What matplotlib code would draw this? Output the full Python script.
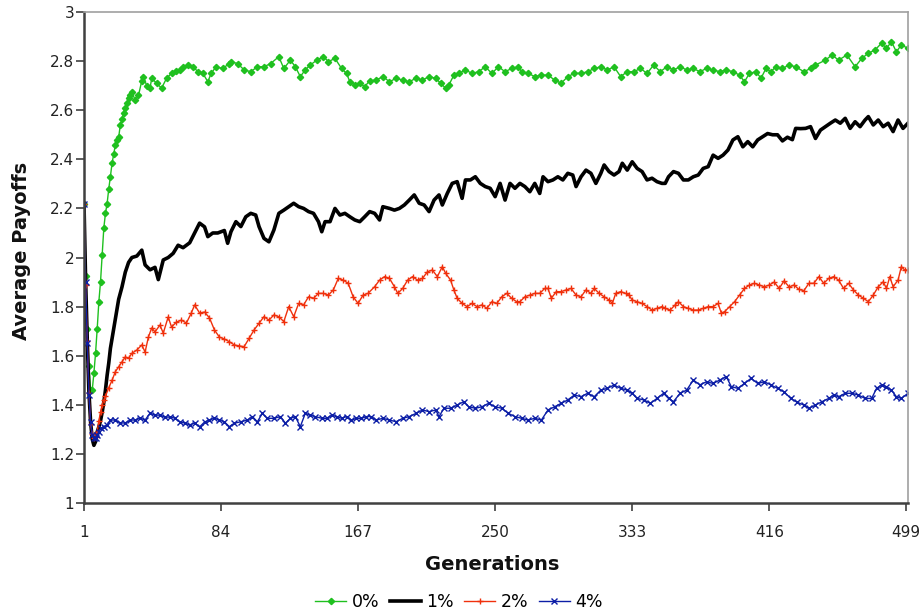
import numpy as np
import matplotlib
matplotlib.use('Agg')
import matplotlib.pyplot as plt
from matplotlib.ticker import FuncFormatter

# (generation, average payoff), one list per noise level
pts_0 = [(1,2.22),(2,1.925),(3,1.71),(4,1.56),(5,1.46),(6,1.46),(7,1.53),(8,1.61),(9,1.71),(10,1.82),
         (11,1.90),(12,2.01),(13,2.12),(14,2.18),(15,2.22),(16,2.28),(17,2.33),(18,2.385),(19,2.42),(20,2.46),
         (21,2.48),(22,2.49),(23,2.54),(24,2.565),(25,2.59),(26,2.61),(27,2.63),(28,2.65),(29,2.66),(30,2.675),
         (32,2.64),(34,2.66),(36,2.72),(37,2.735),(39,2.70),(41,2.69),(42,2.73),(45,2.71),(48,2.69),(51,2.73),
         (54,2.75),(57,2.76),(59,2.765),(61,2.777),(64,2.784),(67,2.777),(70,2.757),(73,2.75),(76,2.716),(78,2.75),
         (81,2.777),(85,2.77),(89,2.79),(90,2.798),(94,2.79),(98,2.764),(102,2.757),(106,2.777),(110,2.777),(114,2.79),
         (119,2.818),(122,2.77),(126,2.804),(129,2.777),(132,2.737),(135,2.764),(138,2.784),(142,2.804),(146,2.818),(149,2.798),
         (153,2.811),(157,2.77),(160,2.75),(162,2.716),(165,2.703),(168,2.71),(171,2.696),(174,2.72),(178,2.723),(182,2.737),
         (186,2.716),(190,2.73),(194,2.723),(198,2.716),(202,2.73),(206,2.723),(210,2.737),(214,2.73),(217,2.71),(220,2.69),
         (222,2.703),(225,2.743),(228,2.75),(232,2.764),(236,2.75),(240,2.757),(244,2.777),(248,2.75),(252,2.777),(256,2.757),
         (260,2.77),(264,2.777),(266,2.757),(270,2.75),(274,2.737),(278,2.743),(282,2.743),(286,2.723),(290,2.71),(294,2.737),
         (298,2.75),(302,2.75),(306,2.757),(310,2.77),(314,2.777),(318,2.764),(322,2.777),(326,2.737),(330,2.757),(334,2.757),
         (338,2.77),(342,2.75),(346,2.784),(350,2.757),(354,2.777),(358,2.764),(362,2.777),(366,2.764),(370,2.77),(374,2.757),
         (378,2.77),(382,2.764),(386,2.757),(390,2.764),(394,2.757),(398,2.743),(401,2.716),(404,2.75),(408,2.757),(411,2.73),
         (414,2.77),(417,2.757),(420,2.777),(424,2.77),(428,2.784),(432,2.777),(437,2.757),(441,2.77),(444,2.784),(450,2.804),
         (454,2.825),(458,2.804),(463,2.825),(468,2.777),(472,2.811),(476,2.832),(480,2.845),(484,2.873),(487,2.852),(490,2.879),
         (493,2.838),(496,2.866),(500,2.852)]

pts_1 = [(1,2.22),(2,1.90),(3,1.66),(4,1.45),(5,1.33),(6,1.26),(7,1.235),(8,1.25),(9,1.29),(10,1.31),
         (11,1.335),(12,1.37),(13,1.41),(14,1.46),(15,1.52),(16,1.57),(17,1.63),(18,1.67),(19,1.71),(20,1.75),
         (21,1.79),(22,1.83),(24,1.88),(26,1.94),(28,1.98),(30,2.00),(33,2.006),(36,2.03),(38,1.97),(41,1.95),
         (44,1.96),(46,1.91),(49,1.99),(52,2.0),(55,2.017),(58,2.05),(61,2.04),(65,2.06),(68,2.10),(71,2.14),
         (74,2.125),(76,2.085),(79,2.10),(82,2.10),(86,2.11),(88,2.058),(90,2.105),(93,2.146),(96,2.126),(99,2.166),
         (102,2.18),(105,2.173),(107,2.126),(110,2.078),(113,2.064),(116,2.112),(119,2.18),(122,2.193),(125,2.207),(128,2.221),
         (131,2.207),(134,2.20),(137,2.187),(140,2.18),(143,2.146),(145,2.105),(147,2.146),(150,2.146),(153,2.20),(156,2.173),
         (159,2.18),(162,2.166),(165,2.153),(168,2.146),(171,2.166),(174,2.187),(177,2.18),(180,2.153),(182,2.207),(186,2.20),
         (189,2.193),(192,2.20),(195,2.214),(198,2.234),(201,2.255),(204,2.221),(207,2.214),(210,2.187),(213,2.234),(216,2.255),
         (218,2.214),(221,2.261),(224,2.302),(227,2.309),(230,2.241),(232,2.316),(235,2.316),(238,2.329),(241,2.302),(244,2.289),
         (247,2.282),(250,2.248),(253,2.302),(256,2.234),(259,2.302),(262,2.282),(265,2.302),(268,2.289),(271,2.268),(274,2.302),
         (277,2.261),(279,2.329),(282,2.309),(285,2.316),(288,2.329),(291,2.316),(294,2.343),(297,2.336),(299,2.289),(302,2.329),
         (305,2.356),(308,2.343),(311,2.302),(314,2.343),(316,2.377),(319,2.35),(322,2.336),(325,2.35),(327,2.384),(330,2.356),
         (333,2.39),(336,2.363),(339,2.35),(342,2.316),(345,2.323),(348,2.309),(351,2.302),(353,2.302),(355,2.329),(358,2.35),
         (361,2.343),(364,2.316),(367,2.316),(370,2.329),(373,2.336),(376,2.363),(379,2.37),(382,2.417),(385,2.404),(388,2.417),
         (391,2.438),(394,2.479),(397,2.492),(400,2.451),(403,2.472),(406,2.451),(409,2.479),(412,2.492),(415,2.505),(418,2.50),
         (421,2.50),(424,2.475),(427,2.49),(430,2.48),(432,2.526),(435,2.525),(438,2.526),(441,2.533),(444,2.485),(447,2.519),
         (450,2.533),(453,2.547),(456,2.56),(459,2.547),(462,2.567),(465,2.526),(468,2.553),(471,2.533),(474,2.56),(476,2.574),
         (479,2.54),(482,2.56),(485,2.533),(488,2.547),(491,2.513),(494,2.56),(497,2.526),(500,2.547)]

pts_2 = [(1,2.22),(2,1.89),(3,1.66),(4,1.45),(5,1.32),(6,1.28),(7,1.265),(8,1.27),(9,1.29),(10,1.335),
         (11,1.37),(12,1.40),(13,1.42),(14,1.435),(16,1.47),(18,1.50),(20,1.535),(22,1.555),(24,1.575),(26,1.595),
         (28,1.59),(30,1.61),(33,1.623),(36,1.644),(38,1.615),(40,1.676),(42,1.713),(44,1.697),(47,1.725),(49,1.692),
         (52,1.758),(54,1.717),(57,1.737),(60,1.745),(63,1.733),(66,1.774),(68,1.807),(71,1.774),(74,1.778),(77,1.754),
         (80,1.705),(83,1.676),(86,1.668),(89,1.657),(92,1.644),(95,1.64),(98,1.637),(101,1.671),(104,1.705),(107,1.732),
         (110,1.759),(113,1.745),(116,1.766),(119,1.759),(122,1.739),(125,1.80),(128,1.759),(131,1.813),(134,1.807),(137,1.84),
         (140,1.834),(143,1.854),(146,1.854),(149,1.847),(152,1.868),(155,1.915),(158,1.908),(161,1.895),(164,1.84),(167,1.813),
         (170,1.847),(173,1.854),(177,1.881),(180,1.908),(183,1.922),(186,1.915),(189,1.881),(191,1.854),(194,1.874),(197,1.908),
         (200,1.922),(203,1.908),(206,1.915),(209,1.942),(212,1.949),(215,1.922),(218,1.963),(220,1.936),(223,1.908),(225,1.868),
         (227,1.834),(230,1.813),(233,1.80),(236,1.813),(239,1.80),(242,1.807),(245,1.793),(248,1.82),(251,1.813),(254,1.84),
         (257,1.854),(260,1.834),(263,1.82),(265,1.82),(268,1.84),(271,1.847),(274,1.854),(277,1.854),(280,1.874),(282,1.874),
         (284,1.834),(287,1.861),(290,1.861),(293,1.868),(296,1.874),(299,1.847),(302,1.84),(305,1.868),(308,1.854),(310,1.874),
         (313,1.854),(316,1.84),(319,1.827),(321,1.813),(323,1.854),(326,1.861),(329,1.854),(331,1.847),(333,1.827),(336,1.82),
         (339,1.813),(342,1.80),(345,1.786),(348,1.793),(351,1.80),(353,1.793),(356,1.786),(359,1.807),(361,1.82),(364,1.80),
         (367,1.793),(370,1.786),(373,1.786),(376,1.793),(379,1.80),(382,1.80),(385,1.813),(387,1.773),(389,1.78),(392,1.80),
         (395,1.82),(398,1.847),(401,1.874),(404,1.888),(407,1.895),(410,1.888),(413,1.881),(416,1.888),(419,1.90),(422,1.874),
         (425,1.905),(428,1.88),(431,1.888),(434,1.87),(437,1.865),(440,1.895),(443,1.895),(446,1.922),(449,1.895),(452,1.915),
         (455,1.922),(458,1.908),(461,1.874),(464,1.895),(467,1.868),(470,1.847),(473,1.834),(476,1.82),(479,1.847),(482,1.881),
         (485,1.901),(487,1.874),(489,1.922),(491,1.881),(494,1.908),(496,1.963),(498,1.949),(500,1.949)]

pts_4 = [(1,2.22),(2,1.90),(3,1.65),(4,1.44),(5,1.331),(6,1.277),(7,1.265),(8,1.265),(9,1.277),(10,1.29),
         (11,1.305),(13,1.311),(15,1.318),(17,1.338),(20,1.338),(23,1.326),(26,1.326),(29,1.338),(32,1.338),(35,1.346),
         (38,1.338),(41,1.366),(44,1.358),(47,1.358),(50,1.35),(53,1.35),(56,1.346),(59,1.33),(62,1.326),(65,1.318),
         (68,1.326),(71,1.31),(74,1.33),(77,1.338),(80,1.346),(83,1.338),(86,1.331),(89,1.311),(92,1.325),(96,1.331),
         (100,1.338),(103,1.352),(106,1.331),(109,1.365),(112,1.345),(116,1.345),(120,1.352),(123,1.325),(126,1.345),(129,1.352),
         (132,1.311),(135,1.365),(138,1.358),(141,1.352),(145,1.345),(148,1.345),(151,1.358),(154,1.352),(157,1.345),(160,1.352),
         (163,1.338),(166,1.345),(169,1.345),(172,1.352),(175,1.352),(178,1.338),(182,1.345),(186,1.338),(190,1.331),(194,1.345),
         (198,1.352),(202,1.365),(206,1.379),(210,1.372),(214,1.379),(216,1.352),(219,1.386),(223,1.386),(227,1.399),(231,1.413),
         (234,1.392),(238,1.386),(242,1.392),(246,1.406),(250,1.392),(254,1.386),(258,1.365),(262,1.352),(266,1.345),(270,1.338),
         (274,1.345),(278,1.338),(282,1.379),(286,1.392),(290,1.406),(294,1.42),(298,1.44),(302,1.433),(306,1.447),(310,1.433),
         (314,1.46),(318,1.467),(322,1.481),(326,1.467),(330,1.46),(333,1.447),(336,1.426),(340,1.42),(344,1.406),(348,1.426),
         (352,1.447),(355,1.426),(358,1.413),(362,1.447),(366,1.46),(370,1.501),(374,1.481),(378,1.494),(382,1.487),(386,1.501),
         (390,1.515),(393,1.474),(397,1.467),(401,1.487),(405,1.508),(409,1.487),(413,1.494),(417,1.481),(421,1.467),(425,1.453),
         (429,1.426),(433,1.41),(437,1.399),(440,1.386),(444,1.399),(448,1.413),(452,1.426),(455,1.44),(458,1.433),(462,1.447),
         (466,1.447),(470,1.44),(474,1.426),(478,1.426),(481,1.467),(484,1.481),(487,1.474),(490,1.46),(493,1.433),(496,1.426),
         (500,1.447)]

xtick_gens = [1, 84, 167, 250, 333, 416, 499]
ytick_vals = [1, 1.2, 1.4, 1.6, 1.8, 2, 2.2, 2.4, 2.6, 2.8, 3]

fig = plt.figure(figsize=(9.23, 6.13), dpi=100)
ax = fig.add_axes([0.091, 0.1794, 0.8927, 0.801])

x, y = np.array(pts_0).T
ax.plot(x, y, color='#1fc01f', lw=1, marker='D', ms=3.2, mec='#1fc01f', label='0%')
x, y = np.array(pts_1).T
ax.plot(x, y, color='black', lw=2.6, label='1%')
x, y = np.array(pts_2).T
ax.plot(x, y, color='#f0300c', lw=1, marker='+', ms=5, mew=1, label='2%')
x, y = np.array(pts_4).T
ax.plot(x, y, color='#0c1ea6', lw=1, marker='x', ms=4, mew=1, label='4%')

ax.set_xlim(1, 500)
ax.set_ylim(1, 3)
ax.set_xticks(xtick_gens)
ax.set_yticks(ytick_vals)
ax.yaxis.set_major_formatter(FuncFormatter(lambda v, p: '%g' % v))
ax.tick_params(axis='both', direction='out', length=6, width=1.2, colors='#404040',
               labelcolor='#222222', labelsize=11)
ax.tick_params(axis='y', pad=1)
ax.tick_params(axis='x', pad=10)

for s in ('left', 'bottom'):
    ax.spines[s].set_color('#404040')
    ax.spines[s].set_linewidth(1.8)
for s in ('top', 'right'):
    ax.spines[s].set_color('#a0a0a0')
    ax.spines[s].set_linewidth(1.2)

ax.set_xlabel('Generations', fontsize=14, fontweight='bold', color='#111111')
ax.set_ylabel('Average Payoffs', fontsize=14, fontweight='bold', color='#111111')
ax.xaxis.set_label_coords(0.496, -0.106)
ax.yaxis.set_label_coords(-0.064, 0.513)

fig.legend(loc='lower center', bbox_to_anchor=(0.497, -0.022), ncol=4, frameon=False,
           fontsize=12.5, handlelength=1.8, handletextpad=0.3, columnspacing=0.6)

fig.savefig('out.png', dpi=100)
